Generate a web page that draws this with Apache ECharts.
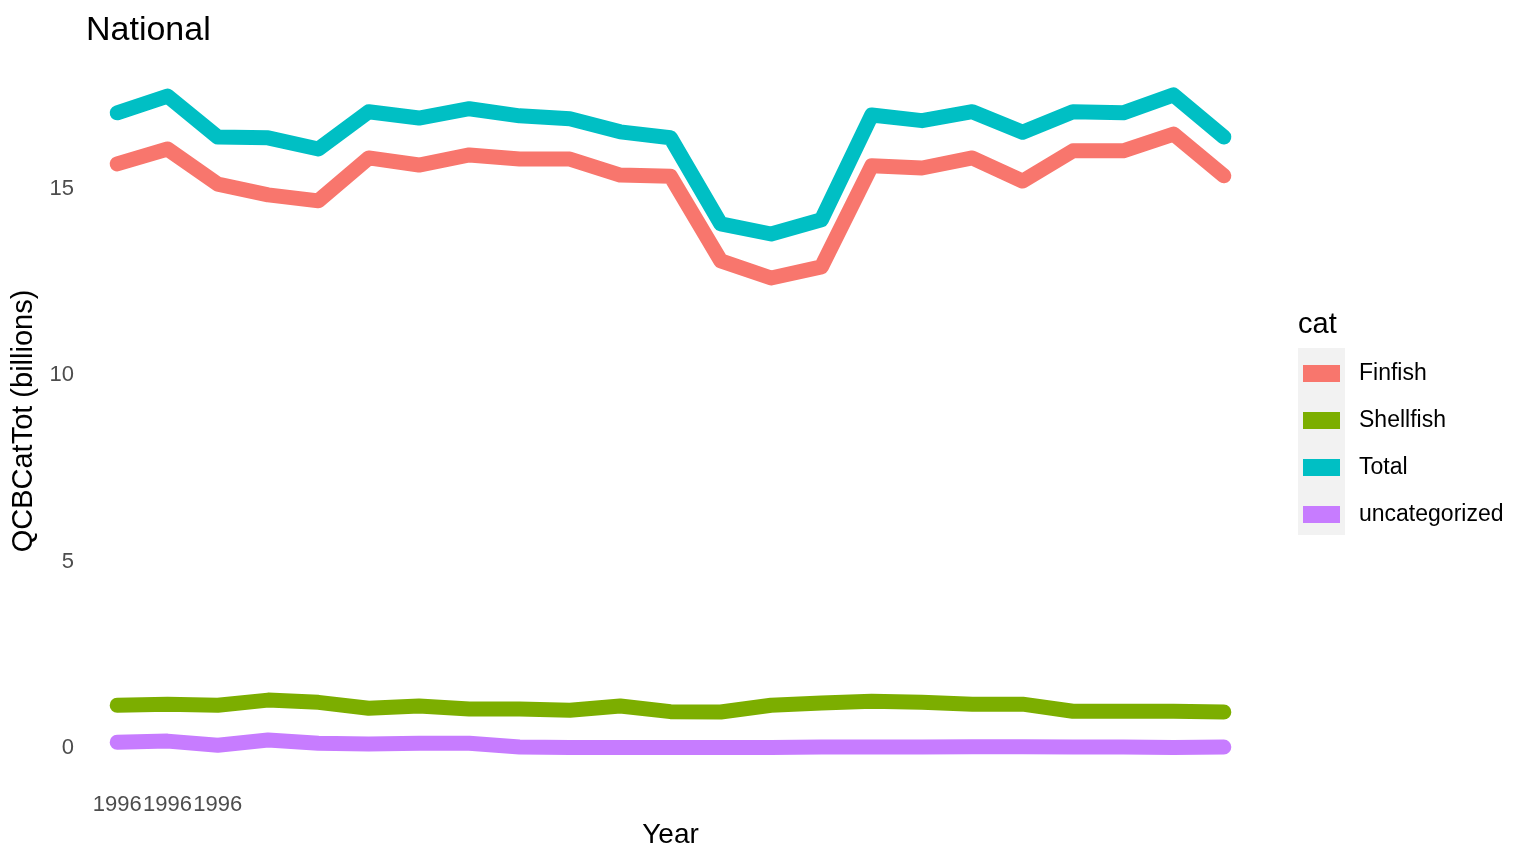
<!DOCTYPE html>
<html>
<head>
<meta charset="utf-8">
<script src="https://cdn.jsdelivr.net/npm/echarts@6/dist/echarts.min.js"></script>
<style>
html,body{margin:0;padding:0;background:#fff;}
#main{width:1536px;height:865px;}
</style>
</head>
<body>
<div id="main"></div>
<script>
// x positions (period index) and tick labels as they appear on the chart
var periods = [0,1,2,3,4,5,6,7,8,9,10,11,12,13,14,15,16,17,18,19,20,21,22];
var xTickPos = [0,1,2];
var xTickLabels = ['1996','1996','1996'];
var yTicks = [0,5,10,15];

// values (billions)
var finfish = [15.67,16.07,15.13,14.84,14.68,15.83,15.64,15.91,15.80,15.80,15.37,15.34,13.07,12.61,12.91,15.62,15.56,15.83,15.21,16.02,16.02,16.47,15.35];
var shellfish = [1.15,1.18,1.15,1.29,1.23,1.07,1.13,1.05,1.05,1.02,1.13,0.98,0.97,1.15,1.21,1.26,1.23,1.18,1.18,0.99,0.99,0.99,0.97];
var total = [17.04,17.49,16.39,16.37,16.07,17.07,16.90,17.15,16.96,16.88,16.53,16.37,14.06,13.79,14.17,16.98,16.83,17.07,16.52,17.07,17.04,17.52,16.39];
var uncategorized = [0.16,0.19,0.08,0.22,0.13,0.11,0.13,0.13,0.03,0.02,0.02,0.02,0.02,0.02,0.03,0.03,0.03,0.04,0.04,0.03,0.03,0.02,0.03];

var cats = ['Finfish','Shellfish','Total','uncategorized'];
var colors = ['#F8766D','#7CAE00','#00BFC4','#C77CFF'];
var seriesData = [finfish, shellfish, total, uncategorized];

var FONT = 'Liberation Sans, Arial, sans-serif';

function pairs(arr){
	var out = [];
	for(var i=0;i<arr.length;i++){
		out.push([periods[i], arr[i]]);
	}
	return out;
}

var series = [];
for(var k=0;k<cats.length;k++){
	series.push({
		name: cats[k],
		type: 'line',
		data: pairs(seriesData[k]),
		showSymbol: false,
		symbol: 'none',
		clip: false,
		color: colors[k],
		lineStyle: {width: 15, color: colors[k], cap: 'round', join: 'round'}
	});
}

var myChart = echarts.init(document.getElementById('main'));

var option = {
	backgroundColor: '#ffffff',
	animation: false,
	title: [{
		text: 'National',
		left: 86,
		top: 14,
		padding: 0,
		textStyle: {fontFamily: FONT, fontSize: 34, fontWeight: 'normal', color: '#000'}
	},{
		text: 'cat',
		left: 1298,
		top: 310,
		padding: 0,
		textStyle: {fontFamily: FONT, fontSize: 29, fontWeight: 'normal', color: '#000'}
	}],
	legend: {
		orient: 'vertical',
		left: 1303,
		top: 362,
		padding: 0,
		icon: 'rect',
		itemWidth: 37,
		itemHeight: 17,
		itemGap: 24,
		data: cats,
		textStyle: {fontFamily: FONT, fontSize: 23, color: '#000', padding: [0,0,0,14]}
	},
	graphic: [{
		type: 'rect',
		left: 1298,
		top: 348,
		z: -1,
		shape: {width: 47, height: 187},
		style: {fill: '#f2f2f2'}
	}],
	grid: {left: 87, right: 282, top: 61, bottom: 84, containLabel: false},
	xAxis: {
		type: 'value',
		min: -0.6,
		max: 22.6,
		name: 'Year',
		nameLocation: 'middle',
		nameGap: 40,
		nameTextStyle: {fontFamily: FONT, fontSize: 28, color: '#000'},
		axisLine: {show: false},
		axisTick: {show: false},
		splitLine: {show: false},
		axisLabel: {
			customValues: xTickPos,
			margin: 13,
			fontFamily: FONT,
			fontSize: 22,
			color: '#4d4d4d',
			formatter: function(v){
				var i = xTickPos.indexOf(v);
				return i >= 0 ? xTickLabels[i] : '';
			}
		}
	},
	yAxis: {
		type: 'value',
		min: -0.88,
		max: 18.43,
		name: 'QCBCatTot (billions)',
		nameLocation: 'middle',
		nameGap: 47,
		nameRotate: 90,
		nameTextStyle: {fontFamily: FONT, fontSize: 29, color: '#000'},
		axisLine: {show: false},
		axisTick: {show: false},
		splitLine: {show: false},
		axisLabel: {
			customValues: yTicks,
			margin: 13,
			fontFamily: FONT,
			fontSize: 22,
			color: '#4d4d4d'
		}
	},
	series: series
};

myChart.setOption(option);
</script>
</body>
</html>
